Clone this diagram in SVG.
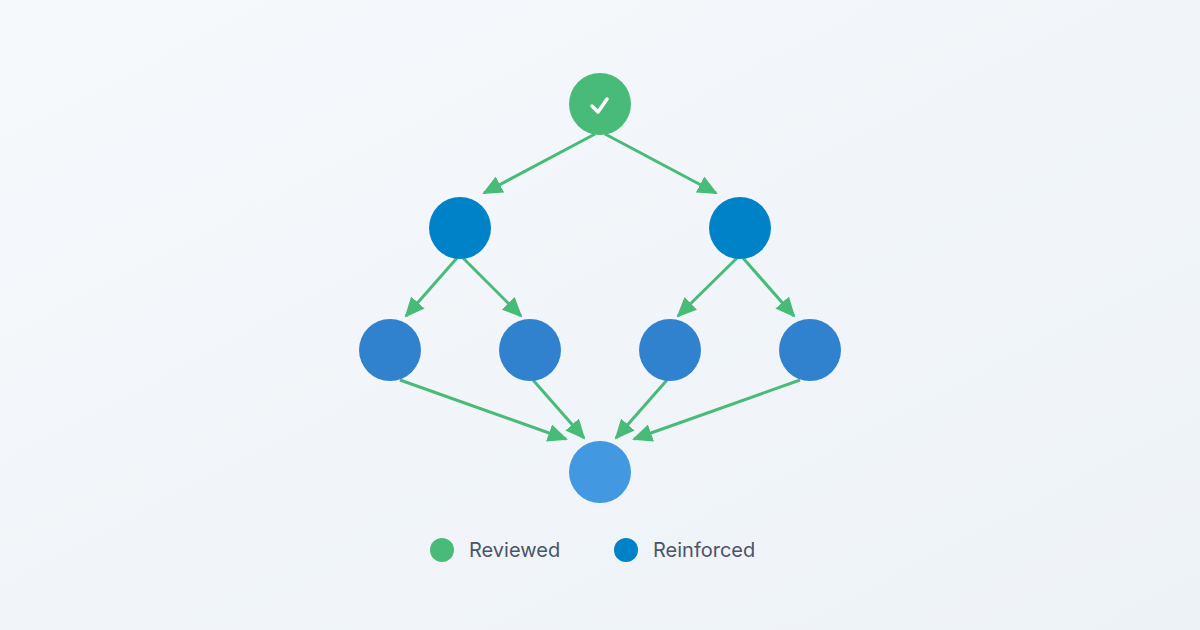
<svg xmlns="http://www.w3.org/2000/svg" width="1200" height="630" viewBox="0 0 1200 630">
<defs>
<linearGradient id="bg" x1="0" y1="0" x2="1" y2="1"><stop offset="0" stop-color="#f6f9fc"/><stop offset="1" stop-color="#edf2f7"/></linearGradient>
<marker id="ah" markerUnits="userSpaceOnUse" markerWidth="20" markerHeight="18" viewBox="0 0 20 18" refX="18" refY="9" orient="auto"><path d="M0,0 L20,9 L0,18 Z" fill="#48bb78"/></marker>
<style>.e{stroke:#48bb78;stroke-width:3;fill:none;marker-end:url(#ah)}.t{font-family:"Inter","Liberation Sans",sans-serif;font-size:20px;fill:#4a5568}</style>
</defs>
<rect width="1200" height="630" fill="url(#bg)"/>
<g id="edges">
<line class="e" x1="595" y1="134" x2="484" y2="193"/>
<line class="e" x1="605" y1="134" x2="716" y2="193"/>
<line class="e" x1="457" y1="258" x2="406" y2="316"/>
<line class="e" x1="463" y1="258" x2="521" y2="316"/>
<line class="e" x1="737" y1="258" x2="678" y2="316"/>
<line class="e" x1="743" y1="258" x2="794" y2="316"/>
<line class="e" x1="400" y1="380" x2="566" y2="439"/>
<line class="e" x1="533" y1="380" x2="584" y2="438"/>
<line class="e" x1="667" y1="380" x2="616" y2="438"/>
<line class="e" x1="800" y1="380" x2="634" y2="439"/>
</g>
<g id="root"><circle cx="600" cy="104" r="31" fill="#48bb78"/><path d="M592,106 L598,112 L607,99" stroke="#fff" stroke-width="3.5" fill="none" stroke-linecap="round" stroke-linejoin="round"/></g>
<g id="l2a"><circle cx="460" cy="228" r="31" fill="#0082c8"/></g>
<g id="l2b"><circle cx="740" cy="228" r="31" fill="#0082c8"/></g>
<g id="l3a"><circle cx="390" cy="350" r="31" fill="#3182ce"/></g>
<g id="l3b"><circle cx="530" cy="350" r="31" fill="#3182ce"/></g>
<g id="l3c"><circle cx="670" cy="350" r="31" fill="#3182ce"/></g>
<g id="l3d"><circle cx="810" cy="350" r="31" fill="#3182ce"/></g>
<g id="bottom"><circle cx="600" cy="472" r="31" fill="#4299e1"/></g>
<g id="legend">
<circle cx="442" cy="550" r="12" fill="#48bb78"/><text class="t" x="469" y="557">Reviewed</text>
<circle cx="626" cy="550" r="12" fill="#0082c8"/><text class="t" x="653" y="557">Reinforced</text>
</g>
</svg>
